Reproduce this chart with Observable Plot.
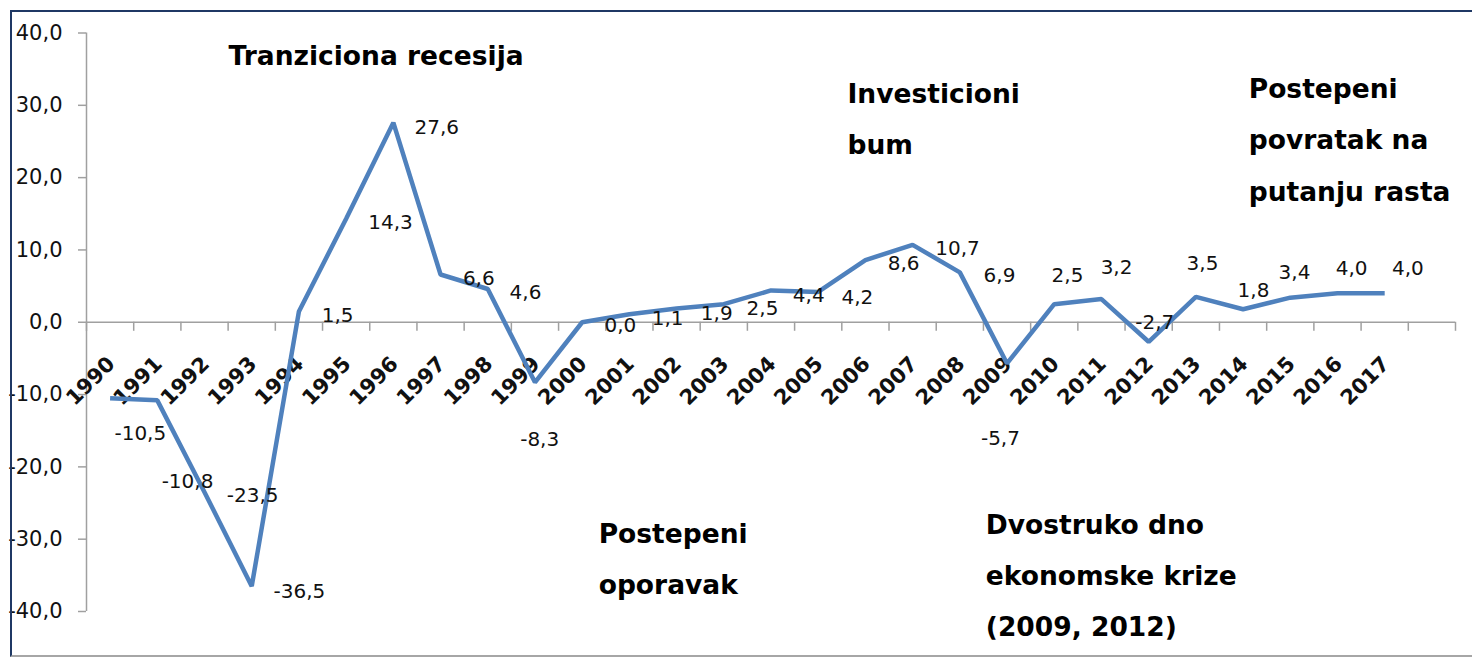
<!DOCTYPE html>
<html><head><meta charset="utf-8">
<script src="https://cdn.jsdelivr.net/npm/d3@7"></script>
<script src="https://cdn.jsdelivr.net/npm/@observablehq/plot@0.6"></script>
<style>
body{margin:0;background:#fff;}
#wrap{position:relative;width:1472px;height:659px;overflow:hidden;background:#fff;}
#wrap svg{position:absolute;left:0;top:0;}
#frame{position:absolute;left:10px;top:10px;width:1462px;height:647px;box-sizing:border-box;border-left:2px solid #1f3864;border-top:2px solid #1f3864;border-bottom:2px solid #a6a6a6;pointer-events:none;}
</style></head><body><div id="wrap"><div id="frame"></div></div>
<script>
const years = [1990,1991,1992,1993,1994,1995,1996,1997,1998,1999,2000,2001,2002,2003,2004,2005,2006,2007,2008,2009,2010,2011,2012,2013,2014,2015,2016,2017];
const growth = [-10.5,-10.8,-23.5,-36.5,1.5,14.3,27.6,6.6,4.6,-8.3,0.0,1.1,1.9,2.5,4.4,4.2,8.6,10.7,6.9,-5.7,2.5,3.2,-2.7,3.5,1.8,3.4,4.0,4.0];
// data-label anchors (year, value) as placed in the original
const labelYear = [1990.64,1991.64,1993.02,1994.01,1994.82,1995.94,1996.92,1997.81,1998.80,1999.10,2000.81,2001.81,2002.85,2003.82,2004.80,2005.83,2006.81,2007.95,2008.84,2008.86,2010.28,2011.32,2012.13,2013.14,2014.22,2015.09,2016.30,2017.49];
const labelValue = [-15.4,-22.1,-24.0,-37.2,0.9,13.8,26.9,6.0,4.1,-16.2,-0.4,0.5,1.2,1.9,3.7,3.4,8.1,10.2,6.5,-16.1,6.5,7.6,0.0,8.1,4.4,6.9,7.4,7.4];
const yTicks = [-40,-30,-20,-10,0,10,20,30,40];
const annTexts = ["Tranziciona recesija","Investicioni\nbum","Postepeni\npovratak na\nputanju rasta","Postepeni\noporavak","Dvostruko dno\nekonomske krize\n(2009, 2012)"];
const annYear = [1992.51,2005.62,2014.12,2000.35,2008.55];
const annValue = [40.6,35.3,36.0,-25.5,-24.2];

const loc = d3.formatLocale({decimal:",", thousands:".", grouping:[3], currency:["",""], minus:"-"});
const fmt = loc.format(".1f");
const data = years.map((y,i)=>({year:y, value:growth[i], lx:labelYear[i], ly:labelValue[i]}));
const anns = annTexts.map((t,i)=>({text:t, x:annYear[i], y:annValue[i]}));
const xMin = years[0]-0.5, xMax = years[years.length-1]+1.5;
const boundaries = d3.range(xMin, xMax+0.01, 1);

const chart = Plot.plot({
  width:1472, height:659,
  marginLeft:86, marginRight:17, marginTop:32.5, marginBottom:48,
  x:{domain:[xMin,xMax], axis:null},
  y:{domain:[-40,40], axis:null},
  style:{fontFamily:"DejaVu Sans", background:"transparent", overflow:"visible"},
  marks:[
    Plot.ruleX([xMin],{y1:-40,y2:40,stroke:"#a0a0a0",strokeWidth:1.5}),
    Plot.axisY(yTicks,{tickFormat:fmt,tickSize:8,tickPadding:16,fontSize:21,stroke:"#a0a0a0",fill:"#111",strokeWidth:1.5}),
    Plot.ruleY([0],{x1:xMin,x2:xMax,stroke:"#a0a0a0",strokeWidth:1.5}),
    Plot.ruleX(boundaries,{y1:0,y2:-1.25,stroke:"#a0a0a0",strokeWidth:1.5}),
    Plot.text(years,{x:d=>d,y:0,text:d=>String(d),rotate:-45,textAnchor:"end",lineAnchor:"bottom",dx:6,dy:43,fontSize:21,fontWeight:"bold",fill:"#111"}),
    Plot.line(data,{x:"year",y:"value",stroke:"#4f81bd",strokeWidth:4.5,strokeLinejoin:"miter",strokeLinecap:"butt"}),
    Plot.text(data,{x:"lx",y:"ly",text:d=>fmt(d.value),fontSize:20,fill:"#111"}),
    Plot.text(anns,{x:"x",y:"y",text:"text",textAnchor:"start",lineAnchor:"top",fontSize:26.5,fontWeight:"bold",lineHeight:1.93,fill:"#000"})
  ]
});
document.getElementById("wrap").insertBefore(chart, document.getElementById("frame"));
</script></body></html>
